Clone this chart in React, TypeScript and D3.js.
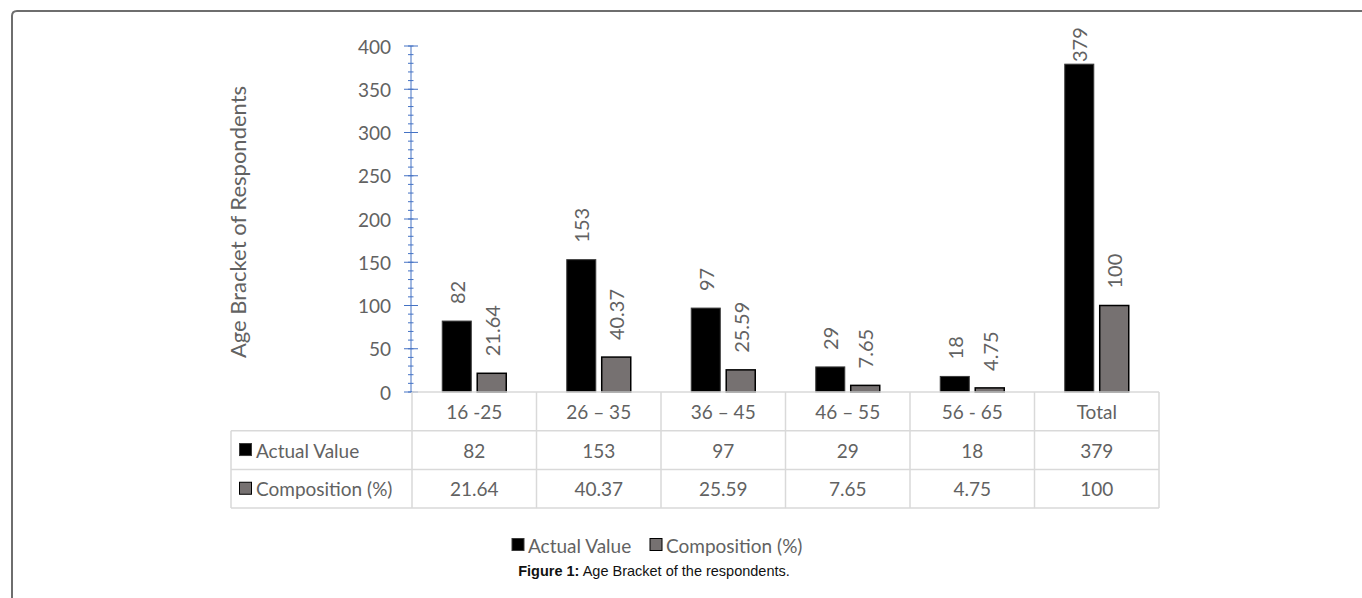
import React from "react";
import * as d3 from "d3";

const categories = ["16 -25", "26 – 35", "36 – 45", "46 – 55", "56 - 65", "Total"];
const actualValues = [82, 153, 97, 29, 18, 379];
const compositionValues = [21.64, 40.37, 25.59, 7.65, 4.75, 100];
const seriesNames = ["Actual Value", "Composition (%)"];
const yTicks = [0, 50, 100, 150, 200, 250, 300, 350, 400];

const W = 1362, H = 598;
const FONT = "Lato, 'Open Sans', sans-serif";
const TXT = "#626262";
const GRID = "#d9d9d9";
const AXIS = "#4472c4";
const colors = ["#000000", "#767171"];
const strokes = ["#3a3a3a", "#000000"];

export default function App() {
    const plotLeft = 412, plotRight = 1159, plotTop = 46, plotBottom = 392;
    const rowH = 38.7;
    const headLeft = 231;

    const x = d3.scaleBand().domain(categories).range([plotLeft, plotRight]).padding(0);
    const inner = d3.scaleBand().domain(seriesNames)
        .range([x.bandwidth() * 0.243, x.bandwidth() * 0.757])
        .paddingInner(0.17);
    const y = d3.scaleLinear().domain([0, 400]).range([plotBottom, plotTop]);
    const minorTicks = d3.range(0, 401, 10);

    const series = [actualValues, compositionValues];

    const rowsY = [plotBottom, plotBottom + rowH, plotBottom + 2 * rowH, plotBottom + 3 * rowH];

    return (
        <svg width={W} height={H} style={{position: "absolute", left: 0, top: 0}} fontFamily={FONT}>
            <rect width={W} height={H} fill="#fff"/>
            {/* frame */}
            <path d={`M12,${H + 5} L12,16 Q12,11 17,11 L${W + 5},11`} fill="none" stroke="#6e6e6e" strokeWidth={2}/>

            {/* y axis */}
            <line x1={411} x2={411} y1={y(400)} y2={y(0)} stroke={AXIS} strokeWidth={1}/>
            {minorTicks.map(t => (
                <line key={"m" + t} x1={408} x2={413.5} y1={y(t)} y2={y(t)} stroke={AXIS} strokeWidth={1}/>
            ))}
            {yTicks.map(t => (
                <g key={t}>
                    <line x1={404} x2={418} y1={y(t)} y2={y(t)} stroke={AXIS} strokeWidth={1}/>
                    <text x={391} y={y(t)} textAnchor="end" dominantBaseline="central" fontSize={19} fill={TXT}>{t}</text>
                </g>
            ))}
            <text transform={`translate(237,${(plotTop + plotBottom) / 2 + 3}) rotate(-90)`} textAnchor="middle"
                  dominantBaseline="central" fontSize={22} fill={TXT}>Age Bracket of Respondents</text>

            {/* bars */}
            {categories.map((c, i) => (
                <g key={c} transform={`translate(${x(c)},0)`}>
                    {seriesNames.map((s, j) => {
                        const v = series[j][i];
                        const bx = inner(s)!;
                        const bw = inner.bandwidth();
                        const top = y(v);
                        const ly = Math.max(top - 17, 62);
                        return (
                            <g key={s}>
                                <rect x={bx} y={top} width={bw} height={plotBottom - top} fill={colors[j]}
                                      stroke={strokes[j]} strokeWidth={j === 1 ? 1.5 : 1}/>
                                <text transform={`translate(${bx + bw / 2},${ly}) rotate(-90)`} textAnchor="start"
                                      dominantBaseline="central" fontSize={20} fill={TXT}>{v}</text>
                            </g>
                        );
                    })}
                </g>
            ))}

            {/* data table */}
            <g stroke={GRID} strokeWidth={1.5} fill="none">
                <line x1={plotLeft} x2={plotRight} y1={rowsY[0]} y2={rowsY[0]}/>
                {rowsY.slice(1).map((ry, k) => (
                    <line key={k} x1={headLeft} x2={plotRight} y1={ry} y2={ry}/>
                ))}
                <line x1={headLeft} x2={headLeft} y1={rowsY[1]} y2={rowsY[3]}/>
                {categories.map(c => (
                    <line key={c} x1={x(c)} x2={x(c)} y1={rowsY[0]} y2={rowsY[3]}/>
                ))}
                <line x1={plotRight} x2={plotRight} y1={rowsY[0]} y2={rowsY[3]}/>
            </g>
            {categories.map(c => (
                <text key={c} x={x(c)! + x.bandwidth() / 2} y={rowsY[0] + rowH / 2} textAnchor="middle"
                      dominantBaseline="central" fontSize={19} fill={TXT}>{c}</text>
            ))}
            {seriesNames.map((s, j) => (
                <g key={s}>
                    <rect x={239.5} y={rowsY[j + 1] + rowH / 2 - 6.5} width={12} height={12} fill={colors[j]}
                          stroke={strokes[j]} strokeWidth={1}/>
                    <text x={256} y={rowsY[j + 1] + rowH / 2} dominantBaseline="central" fontSize={19}
                          fill={TXT}>{s}</text>
                    {categories.map((c, i) => (
                        <text key={c} x={x(c)! + x.bandwidth() / 2} y={rowsY[j + 1] + rowH / 2} textAnchor="middle"
                              dominantBaseline="central" fontSize={19} fill={TXT}>{series[j][i]}</text>
                    ))}
                </g>
            ))}

            {/* legend */}
            {seriesNames.map((s, j) => {
                const lx = j === 0 ? 512 : 650;
                return (
                    <g key={s}>
                        <rect x={lx} y={538.5} width={12} height={12} fill={colors[j]} stroke={strokes[j]} strokeWidth={1}/>
                        <text x={lx + 16} y={545} dominantBaseline="central" fontSize={19} fill={TXT}>{s}</text>
                    </g>
                );
            })}

            {/* caption */}
            <text x={654} y={576} textAnchor="middle" fontFamily="'Liberation Sans', Arial, sans-serif" fontSize={14.5}
                  fill="#111">
                <tspan fontWeight="bold">Figure 1:</tspan> Age Bracket of the respondents.
            </text>
        </svg>
    );
}
